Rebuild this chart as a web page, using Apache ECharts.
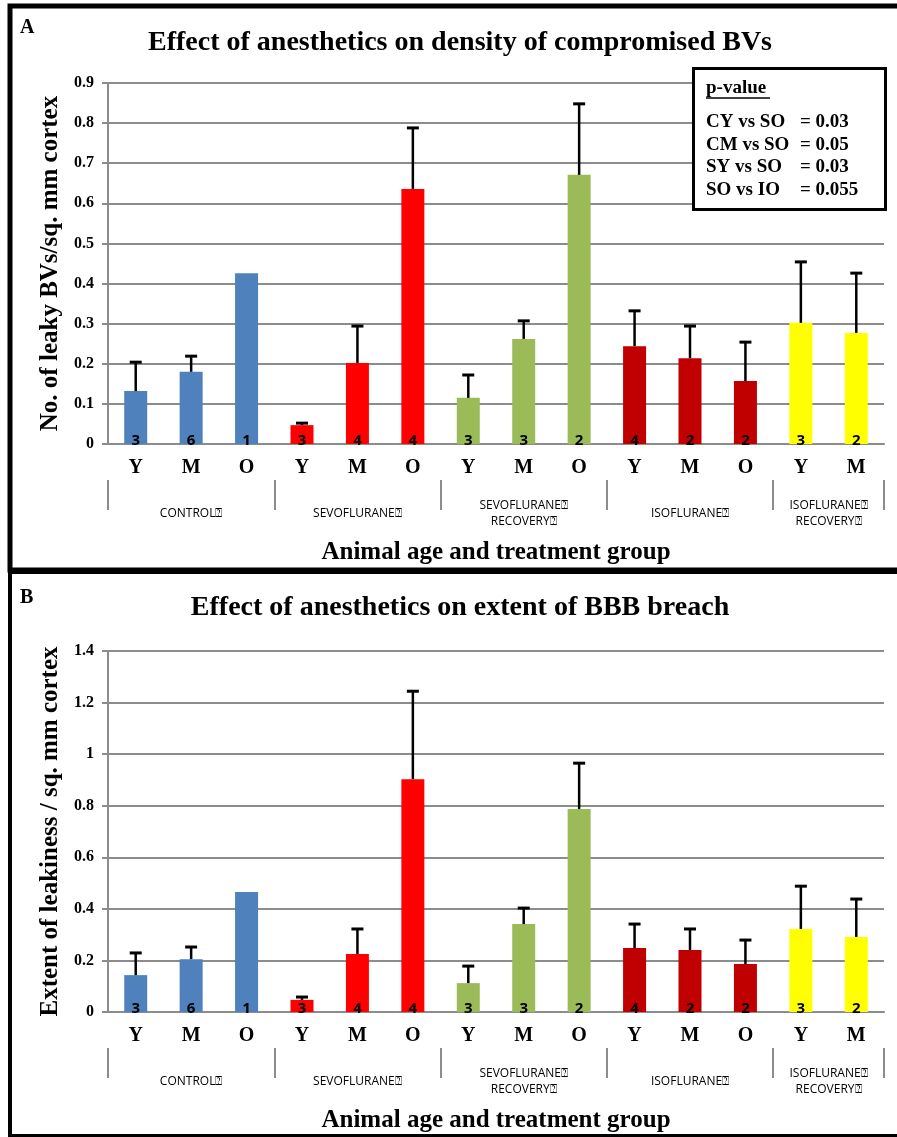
<!DOCTYPE html>
<html>
<head>
<meta charset="utf-8">
<script src="https://cdn.jsdelivr.net/npm/echarts@6/dist/echarts.min.js"></script>
<style>
html,body{margin:0;padding:0;background:#fff;}
#c{width:897px;height:1137px;}
</style>
</head>
<body>
<div id="c"></div>
<script>
// ---- data ----
const categories = ['Y','M','O','Y','M','O','Y','M','O','Y','M','O','Y','M'];
const groupNames = ['CONTROL\u2370','SEVOFLURANE\u2370','SEVOFLURANE\u2370\nRECOVERY\u2370','ISOFLURANE\u2370','ISOFLURANE\u2370\nRECOVERY\u2370'];
const groupSizes = [3,3,3,3,2];
const groupColors = ['#4F81BD','#FF0000','#9BBB59','#C00000','#FFFF00'];
const nAnimals = [3,6,1,3,4,4,3,3,2,4,2,2,3,2];

// Panel A: density of compromised BVs (mean, SEM; null = no error bar)
const meanA = [0.132,0.180,0.426,0.047,0.202,0.636,0.115,0.262,0.671,0.244,0.214,0.157,0.302,0.277];
const semA  = [0.072,0.039,null ,0.005,0.092,0.152,0.057,0.045,0.177,0.088,0.080,0.097,0.152,0.149];
// Panel B: extent of BBB breach
const meanB = [0.143,0.205,0.465,0.047,0.225,0.903,0.112,0.341,0.787,0.248,0.240,0.186,0.322,0.291];
const semB  = [0.086,0.047,null ,0.011,0.097,0.341,0.066,0.062,0.178,0.093,0.082,0.093,0.166,0.147];

const yMaxA = 0.9, yStepA = 0.1;
const yMaxB = 1.4, yStepB = 0.2;

const titleA = 'Effect of anesthetics on density of compromised BVs';
const titleB = 'Effect of anesthetics on extent of BBB breach';
const yNameA = 'No. of leaky BVs/sq. mm cortex';
const yNameB = 'Extent of leakiness / sq. mm cortex';
const xName = 'Animal age and treatment group';
const pTitle = 'p-value';
const pRows = [['CY vs SO','= 0.03'],['CM vs SO','= 0.05'],['SY vs SO','= 0.03'],['SO vs IO','= 0.055']];

// ---- derived ----
const barColors = [];
const groupBounds = [0];
groupSizes.forEach((s,g)=>{ for(let i=0;i<s;i++) barColors.push(groupColors[g]); groupBounds.push(groupBounds[groupBounds.length-1]+s); });
const groupMids = groupSizes.map((s,g)=>groupBounds[g]+s/2);
const nCat = categories.length;

const SERIF = '"Liberation Serif","Times New Roman",serif';
const SANS = '"Open Sans","Liberation Sans",sans-serif';
const GRAY = '#8c8c8c';

const gridA = {left:108, top:83, width:776, height:361};
const gridB = {left:108, top:651, width:776, height:361};

function xAxes(gi){
  return [
    {
      type:'category', gridIndex:gi, data:categories,
      axisLine:{lineStyle:{color:GRAY,width:2}},
      axisTick:{length:34, lineStyle:{color:GRAY,width:2}},
      axisLabel:{margin:14, fontFamily:SERIF, fontWeight:'bold', fontSize:20, color:'#000'},
      name:xName, nameLocation:'middle', nameGap:96,
      nameTextStyle:{fontFamily:SERIF, fontWeight:'bold', fontSize:25, color:'#000'}
    },
    {
      type:'value', gridIndex:gi, min:0, max:nCat, position:'bottom', offset:36,
      axisLine:{show:false}, splitLine:{show:false},
      axisTick:{show:true, length:30, customValues:groupBounds, lineStyle:{color:GRAY,width:2}},
      axisLabel:{customValues:groupMids, margin:34, verticalAlign:'middle', lineHeight:16,
        fontFamily:SANS, fontSize:12, color:'#000',
        formatter:(v)=>{ const k=groupMids.findIndex(m=>Math.abs(m-v)<1e-6); return k>=0?groupNames[k]:''; }}
    }
  ];
}
function yAxis(gi, max, step, name){
  return {
    type:'value', gridIndex:gi, min:0, max:max, interval:step,
    axisLine:{show:true, lineStyle:{color:GRAY,width:2}},
    axisTick:{show:true, length:6, lineStyle:{color:GRAY,width:2}},
    splitLine:{lineStyle:{color:GRAY,width:2}},
    axisLabel:{margin:14, fontFamily:SERIF, fontWeight:'bold', fontSize:16, color:'#000',
      formatter:(v)=>String(Math.round(v*10)/10)},
    name:name, nameLocation:'middle', nameGap:41,
    nameTextStyle:{fontFamily:SERIF, fontWeight:'bold', fontSize:25, color:'#000'}
  };
}
function barSeries(xi, yi, means){
  return {
    type:'bar', xAxisIndex:xi, yAxisIndex:yi, barWidth:23,
    data: means.map((v,i)=>({value:v, itemStyle:{color:barColors[i]}})),
    label:{show:true, position:'insideBottom', distance:-4, color:'#000',
      fontFamily:SANS, fontWeight:'bold', fontSize:15,
      formatter:(p)=>String(nAnimals[p.dataIndex])},
    z:3
  };
}
function errSeries(xi, yi, means, sems){
  const data = [];
  means.forEach((m,i)=>{ if(sems[i]!=null) data.push([i, m, m+sems[i]]); });
  return {
    type:'custom', xAxisIndex:xi, yAxisIndex:yi, z:4,
    data:data,
    renderItem:(params, api)=>{
      const lo = api.coord([api.value(0), api.value(1)]);
      const hi = api.coord([api.value(0), api.value(2)]);
      const cw = 6;
      return {type:'group', children:[
        {type:'line', shape:{x1:lo[0],y1:lo[1],x2:hi[0],y2:hi[1]}, style:{stroke:'#000',lineWidth:2.5}},
        {type:'line', shape:{x1:hi[0]-cw,y1:hi[1],x2:hi[0]+cw,y2:hi[1]}, style:{stroke:'#000',lineWidth:3}}
      ]};
    }
  };
}

const PZ = 60;
const pFont = 'bold 19px '+SERIF;
const pElems = [
  {type:'rect', z:PZ, shape:{x:693.5,y:68.5,width:192,height:141}, style:{fill:'#ffffff',stroke:'#000',lineWidth:3}},
  {type:'text', z:PZ+1, x:706, y:88, style:{text:pTitle, font:pFont, fill:'#000', textVerticalAlign:'middle'}},
  {type:'line', z:PZ+1, shape:{x1:706,y1:98,x2:770,y2:98}, style:{stroke:'#000',lineWidth:1.5}}
];
pRows.forEach((r,i)=>{
  pElems.push({type:'text', z:PZ+1, x:706, y:122+i*22.7, style:{text:r[0], font:pFont, fill:'#000', textVerticalAlign:'middle'}});
  pElems.push({type:'text', z:PZ+1, x:800, y:122+i*22.7, style:{text:r[1], font:pFont, fill:'#000', textVerticalAlign:'middle'}});
});

const chart = echarts.init(document.getElementById('c'), null, {renderer:'canvas'});
chart.setOption({
  animation:false,
  backgroundColor:'#fff',
  grid:[gridA, gridB],
  xAxis:[...xAxes(0), ...xAxes(1)],
  yAxis:[yAxis(0,yMaxA,yStepA,yNameA), yAxis(1,yMaxB,yStepB,yNameB)],
  series:[
    barSeries(0,0,meanA), errSeries(0,0,meanA,semA),
    barSeries(2,1,meanB), errSeries(2,1,meanB,semB)
  ],
  graphic:[
    {type:'rect', z:100, shape:{x:10,y:6,width:900,height:564}, style:{fill:null,stroke:'#000',lineWidth:5}},
    {type:'rect', z:100, shape:{x:10,y:572,width:900,height:564}, style:{fill:null,stroke:'#000',lineWidth:4}},
    {type:'text', z:100, x:20, y:28, style:{text:'A', font:'bold 20px '+SERIF, fill:'#000', textVerticalAlign:'middle'}},
    {type:'text', z:100, x:20, y:598, style:{text:'B', font:'bold 20px '+SERIF, fill:'#000', textVerticalAlign:'middle'}},
    {type:'text', z:100, x:460, y:43, style:{text:titleA, font:'bold 28px '+SERIF, fill:'#000', textAlign:'center', textVerticalAlign:'middle'}},
    {type:'text', z:100, x:460, y:608, style:{text:titleB, font:'bold 28px '+SERIF, fill:'#000', textAlign:'center', textVerticalAlign:'middle'}},
    ...pElems
  ]
});
</script>
</body>
</html>
